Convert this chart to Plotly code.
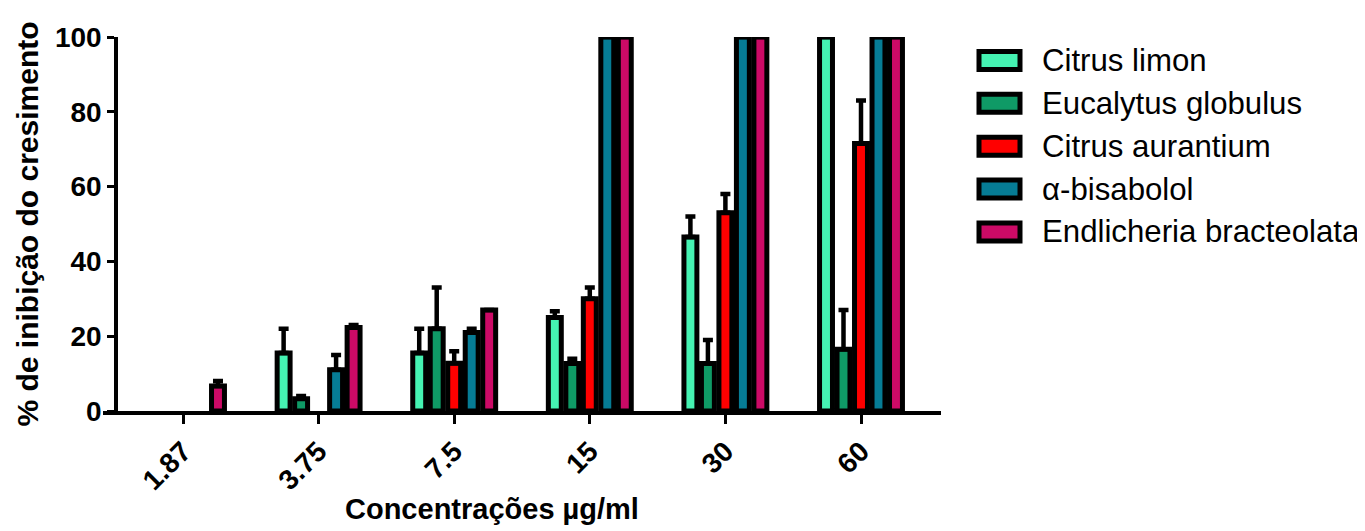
import plotly.graph_objects as go

categories = ["1.87", "3.75", "7.5", "15", "30", "60"]
series_names = ["Citrus limon", "Eucalytus globulus", "Citrus aurantium", "\u03b1-bisabolol", "Endlicheria bracteolata"]
colors = ["#45F2B2", "#0F9A66", "#FF0000", "#067C95", "#CC0A66"]

citrus_limon = [None, 15.5, 15.5, 25, 46.5, 100]
eucalytus = [None, 3.3, 22, 12.7, 12.7, 16.5]
citrus_aurantium = [None, None, 12.8, 30, 53, 71.5]
bisabolol = [None, 11, 21, 100, 100, 100]
endlicheria = [6.7, 22.3, 27, 100, 100, 100]

citrus_limon_err = [None, 6.5, 6.5, 1.7, 5.5, None]
eucalytus_err = [None, 0.7, 11, 1.3, 6.3, 10.5]
citrus_aurantium_err = [None, None, 3.2, 3, 5, 11.5]
bisabolol_err = [None, 4, 1, None, None, None]
endlicheria_err = [1.3, 0.7, None, None, None, None]

values = [citrus_limon, eucalytus, citrus_aurantium, bisabolol, endlicheria]
errors = [citrus_limon_err, eucalytus_err, citrus_aurantium_err, bisabolol_err, endlicheria_err]

FONT = "Liberation Sans, Arial, sans-serif"

# page offset (body margin) compensation
OFF = 8
L, T, PW, PH = 103 - OFF, 36.5 - OFF, 838, 375
W, H = 1365, 531

fig = go.Figure()
for name, col, v, e in zip(series_names, colors, values, errors):
    fig.add_trace(go.Bar(
        x=categories, y=v, name=name,
        marker=dict(color=col, line=dict(color="black", width=5)),
        error_y=dict(type="data", array=[x if x is not None else 0 for x in e],
                     arrayminus=[0] * len(e), symmetric=False,
                     color="black", thickness=4.5, width=5, visible=True),
        showlegend=False,
    ))

def px_x(sx):
    return (sx - OFF - L) / PW

def px_y(sy):
    return (T + PH - (sy - OFF)) / PH

# custom legend (large swatches)
for i, (name, col) in enumerate(zip(series_names, colors)):
    yc = 60 + i * 43
    fig.add_shape(type="rect", xref="paper", yref="paper",
                  x0=px_x(979), x1=px_x(1020),
                  y0=px_y(yc + 9), y1=px_y(yc - 9),
                  fillcolor=col, line=dict(color="black", width=5))
    fig.add_annotation(xref="paper", yref="paper", x=px_x(1040),
                       y=px_y(yc), text=name, showarrow=False,
                       xanchor="left", yanchor="middle",
                       font=dict(family=FONT, size=31.2, color="black"))

# x-axis title (centred as in the reference)
fig.add_annotation(xref="paper", yref="paper", x=px_x(492), y=px_y(510),
                   text="<b>Concentrações µg/ml</b>", showarrow=False,
                   xanchor="center", yanchor="middle",
                   font=dict(family=FONT, size=29, color="black"))

fig.update_layout(
    width=W, height=H,
    margin=dict(l=L, r=W - L - PW, t=T, b=H - T - PH),
    plot_bgcolor="white", paper_bgcolor="white",
    barmode="group", bargap=0.355, bargroupgap=0.26,
    font=dict(family=FONT, color="black"),
    xaxis=dict(
        range=[-0.59, 5.59], showline=True, linecolor="black", linewidth=3.5,
        ticks="outside", ticklen=9, tickwidth=3, tickcolor="black",
        tickangle=-45, tickfont=dict(family=FONT, size=28, color="black", weight="bold"),
        showgrid=False, zeroline=False,
    ),
    yaxis=dict(
        range=[0, 100], tickvals=[0, 20, 40, 60, 80, 100],
        anchor="free", position=(116 - 103) / 838,
        showline=True, linecolor="black", linewidth=3.5,
        ticks="outside", ticklen=7, tickwidth=3, tickcolor="black",
        tickfont=dict(family=FONT, size=28, color="black", weight="bold"),
        showgrid=False, zeroline=False,
        title=dict(text="<b>% de inibição do cresimento</b>", font=dict(family=FONT, size=30, color="black"), standoff=6),
    ),
)

fig.write_html("out.html")
